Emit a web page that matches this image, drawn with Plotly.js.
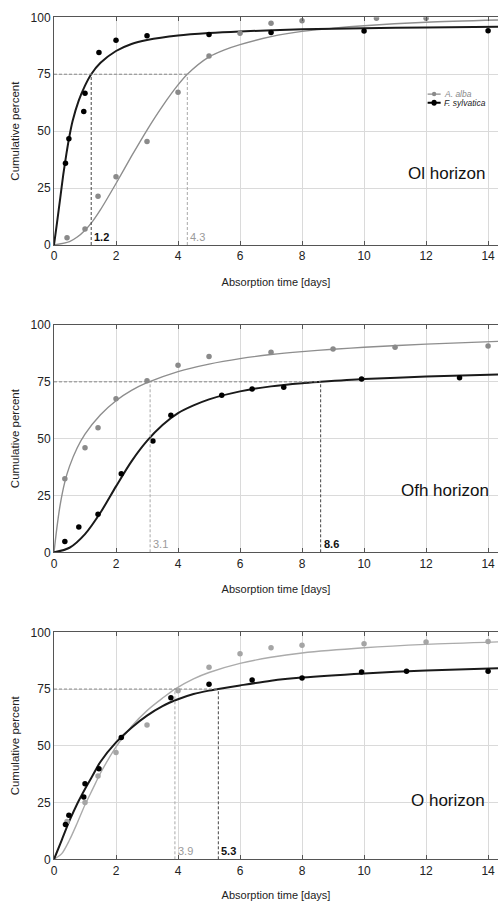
<!DOCTYPE html>
<html>
<head>
<meta charset="utf-8">
<script src="https://cdn.plot.ly/plotly-3.0.1.min.js"></script>
<style>html,body{margin:0;padding:0;background:#fff;}#chart{width:498px;height:901px;}</style>
</head>
<body>
<div id="chart"></div>
<script>
// ---------- DATA ----------
var panelNames = ["Ol horizon", "Ofh horizon", "O horizon"];
var speciesNames = ["A. alba", "F. sylvatica"];

// Ol horizon
var olAlbaX = [0.42, 1.0, 1.42, 2.0, 3.0, 4.0, 5.0, 6.0, 7.0, 8.0, 10.4, 12.0];
var olAlbaY = [3.2, 7.0, 21.4, 30.0, 45.4, 67.1, 83.0, 93.0, 97.4, 98.5, 99.6, 99.6];
var olFagX = [0.37, 0.48, 0.96, 1.0, 1.45, 2.0, 3.0, 5.0, 7.0, 10.0, 14.0];
var olFagY = [35.9, 46.7, 58.6, 66.6, 84.5, 89.9, 91.9, 92.5, 93.3, 94.0, 94.1];
var olAlbaFitX = [0, 0.5, 0.75, 1.0, 1.25, 1.5, 2.0, 2.5, 3.0, 3.5, 4.0, 4.3, 5.0, 5.5, 6.0, 7.0, 8.0, 9.0, 10.0, 12.0, 14.32];
var olAlbaFitY = [0, 1.5, 3.5, 6.5, 10.5, 15.5, 27.0, 39.0, 50.5, 61.0, 70.3, 75.0, 82.6, 85.7, 88.0, 91.5, 93.8, 95.2, 96.3, 97.8, 98.8];
var olFagFitX = [0, 0.1, 0.2, 0.3, 0.4, 0.5, 0.6, 0.8, 1.0, 1.2, 1.5, 2.0, 2.5, 3.0, 4.0, 5.0, 6.0, 8.0, 10.0, 12.0, 14.32];
var olFagFitY = [0, 10, 20.5, 31, 40, 48, 54.5, 63.5, 70, 75, 80, 85.2, 88.3, 90.0, 92.0, 93.1, 93.8, 94.7, 95.2, 95.5, 95.8];

// Ofh horizon
var ofhAlbaX = [0.35, 1.0, 1.42, 2.0, 3.0, 4.0, 5.0, 7.0, 9.0, 11.0, 14.0];
var ofhAlbaY = [32.4, 46.0, 54.8, 67.6, 75.5, 82.3, 86.1, 88.0, 89.4, 90.2, 90.8];
var ofhFagX = [0.35, 0.8, 1.42, 2.17, 3.19, 3.77, 5.41, 6.39, 7.41, 9.92, 13.08];
var ofhFagY = [4.7, 11.1, 16.7, 34.6, 49.0, 60.3, 69.1, 71.8, 72.6, 76.2, 76.8];
var ofhAlbaFitX = [0, 0.1, 0.2, 0.35, 0.5, 0.75, 1.0, 1.5, 2.0, 2.5, 3.0, 4.0, 5.0, 6.0, 7.0, 8.0, 9.0, 10.0, 12.0, 14.32];
var ofhAlbaFitY = [0, 11.5, 21, 31, 37.8, 46, 52, 60.5, 66.7, 71.2, 74.6, 79.5, 82.8, 85.2, 87.0, 88.3, 89.3, 90.2, 91.6, 92.8];
var ofhFagFitX = [0, 0.5, 1.0, 1.5, 2.0, 2.5, 3.0, 3.5, 4.0, 4.5, 5.0, 6.0, 7.0, 8.0, 8.6, 10.0, 12.0, 14.32];
var ofhFagFitY = [0, 2.0, 8.0, 17.5, 29.0, 40.0, 49.0, 56.0, 61.2, 64.6, 67.3, 70.8, 73.0, 74.4, 75.0, 76.2, 77.3, 78.2];

// O horizon
var oAlbaX = [0.42, 1.0, 1.42, 2.0, 3.0, 4.0, 5.0, 6.0, 7.0, 8.0, 10.0, 12.0, 14.0];
var oAlbaY = [16.6, 25.0, 36.7, 47.1, 59.2, 74.2, 84.6, 90.5, 93.2, 94.3, 95.0, 95.7, 95.9];
var oFagX = [0.37, 0.48, 0.96, 1.0, 1.45, 2.17, 3.77, 5.0, 6.39, 8.0, 9.92, 11.37, 14.0];
var oFagY = [15.3, 19.4, 27.5, 33.3, 39.9, 53.7, 71.2, 77.1, 79.0, 79.9, 82.5, 82.8, 82.8];
var oAlbaFitX = [0, 0.25, 0.5, 0.75, 1.0, 1.25, 1.5, 1.75, 2.0, 2.5, 3.0, 3.5, 3.9, 4.5, 5.0, 6.0, 7.0, 8.0, 10.0, 12.0, 14.32];
var oAlbaFitY = [0, 2.5, 8.5, 16, 24, 31, 38, 44, 49.5, 58.5, 65.5, 71, 75, 79.5, 82.3, 86.3, 89.0, 90.9, 93.2, 94.7, 95.8];
var oFagFitX = [0, 0.25, 0.5, 0.75, 1.0, 1.25, 1.5, 2.0, 2.5, 3.0, 3.5, 4.0, 4.5, 5.0, 5.3, 6.0, 7.0, 8.0, 10.0, 12.0, 14.32];
var oFagFitY = [0, 8.5, 17, 24.5, 31, 37, 43, 51.5, 58, 63.3, 67.5, 70.5, 72.8, 74.3, 75, 76.6, 78.7, 80.1, 81.9, 83.2, 84.2];

// Time to 75 % absorption [days]
var t75Alba = [4.3, 3.1, 3.9];
var t75Fag = [1.2, 8.6, 5.3];
var threshold = 75;

var xTicks = [0, 2, 4, 6, 8, 10, 12, 14];
var yTicks = [0, 25, 50, 75, 100];

// ---------- STYLE ----------
var FONT = "Liberation Sans, Arial, sans-serif";
var grayPt = ["#8a8a8a", "#8a8a8a", "#a5a5a5"];
var grayLn = ["#8e8e8e", "#8e8e8e", "#ababab"];
var blackPt = "#000000";
var blackLn = "#1a1a1a";

var panels = [
  {aX: olAlbaX, aY: olAlbaY, fX: olFagX, fY: olFagY, afX: olAlbaFitX, afY: olAlbaFitY, ffX: olFagFitX, ffY: olFagFitY},
  {aX: ofhAlbaX, aY: ofhAlbaY, fX: ofhFagX, fY: ofhFagY, afX: ofhAlbaFitX, afY: ofhAlbaFitY, ffX: ofhFagFitX, ffY: ofhFagFitY},
  {aX: oAlbaX, aY: oAlbaY, fX: oFagX, fY: oFagY, afX: oAlbaFitX, afY: oAlbaFitY, ffX: oFagFitX, ffY: oFagFitY}
];

var H = 901;
var plotPx = [[17.3, 245], [325, 552.3], [632.3, 859.3]];
var labelY = [31.6, 27.0, 26.1];
var labelX = [13.95, 14.09, 13.95];

var traces = [];
var shapes = [];
var annotations = [];
var layout = {
  width: 498, height: H,
  margin: {l: 54, r: 0, t: 0, b: 0},
  paper_bgcolor: "#ffffff", plot_bgcolor: "#ffffff",
  showlegend: false,
  font: {family: FONT, color: "#222", size: 12}
};

panels.forEach(function (p, i) {
  var sfx = i === 0 ? "" : String(i + 1);
  var xr = "x" + sfx, yr = "y" + sfx;
  // curves
  traces.push({x: p.afX, y: p.afY, xaxis: xr, yaxis: yr, type: "scatter", mode: "lines",
    line: {color: grayLn[i], width: 1.4, shape: "spline", smoothing: 0.8}, hoverinfo: "skip"});
  traces.push({x: p.ffX, y: p.ffY, xaxis: xr, yaxis: yr, type: "scatter", mode: "lines",
    line: {color: blackLn, width: 2, shape: "spline", smoothing: 0.8}, hoverinfo: "skip"});
  // points
  traces.push({x: p.aX, y: p.aY, xaxis: xr, yaxis: yr, type: "scatter", mode: "markers",
    name: speciesNames[0], marker: {color: grayPt[i], size: 5.5}});
  traces.push({x: p.fX, y: p.fY, xaxis: xr, yaxis: yr, type: "scatter", mode: "markers",
    name: speciesNames[1], marker: {color: blackPt, size: 5.5}});

  var top = 1 - plotPx[i][0] / H, bot = 1 - plotPx[i][1] / H;
  layout["xaxis" + sfx] = {
    domain: [0, 1], anchor: yr, range: [0, 14.32], tickvals: xTicks, ticktext: xTicks.map(String),
    showgrid: true, gridcolor: "#dadada", gridwidth: 1, zeroline: false,
    showline: true, linecolor: "#555", linewidth: 1, mirror: "ticks",
    ticks: "inside", ticklen: 4, tickcolor: "#555",
    tickfont: {family: FONT, size: 12, color: "#222"},
    title: {text: "Absorption time [days]", font: {family: FONT, size: 11, color: "#222"}, standoff: 15}
  };
  layout["yaxis" + sfx] = {
    domain: [bot, top], anchor: xr, range: [0, 100], tickvals: yTicks, ticktext: yTicks.map(String),
    showgrid: true, gridcolor: "#dadada", gridwidth: 1, zeroline: false,
    showline: true, linecolor: "#555", linewidth: 1, mirror: false, ticks: "",
    tickfont: {family: FONT, size: 12, color: "#222"},
    title: {text: "Cumulative percent", font: {family: FONT, size: 11.5, color: "#222"}, standoff: 8}
  };

  var ta = t75Alba[i], tf = t75Fag[i];
  var tmax = Math.max(ta, tf);
  // horizontal dashed line at 75 %
  shapes.push({type: "line", xref: xr, yref: yr, x0: 0, x1: tmax, y0: threshold, y1: threshold,
    line: {color: "#8a8a8a", width: 1, dash: "3px,2px"}});
  // vertical dashed lines
  shapes.push({type: "line", xref: xr, yref: yr, x0: ta, x1: ta, y0: 0, y1: threshold,
    line: {color: "#a8a8a8", width: 1, dash: "3px,2px"}});
  shapes.push({type: "line", xref: xr, yref: yr, x0: tf, x1: tf, y0: 0, y1: threshold,
    line: {color: "#444", width: 1, dash: "3px,2px"}});
  annotations.push({xref: xr, yref: yr, x: ta, y: 0, xanchor: "left", yanchor: "bottom", xshift: 1, yshift: 0,
    text: String(ta), showarrow: false, font: {family: FONT, size: 11, color: "#9a9a9a"}});
  annotations.push({xref: xr, yref: yr, x: tf, y: 0, xanchor: "left", yanchor: "bottom", xshift: 1, yshift: 0,
    text: "<b>" + String(tf) + "</b>", showarrow: false, font: {family: FONT, size: 11, color: "#111"}});
  // horizon label
  annotations.push({xref: xr, yref: yr, x: labelX[i], y: labelY[i], xanchor: "right", yanchor: "middle",
    text: panelNames[i], showarrow: false, font: {family: FONT, size: 17, color: "#111"}});
});

// manual legend in panel 1
var legRows = [{y: 66.3, c: "#8a8a8a", t: speciesNames[0], w: 1.2, r: 0.07, ry: 1.0},
               {y: 62.5, c: "#000", t: speciesNames[1], w: 2, r: 0.085, ry: 1.3}];
legRows.forEach(function (r) {
  shapes.push({type: "line", xref: "x", yref: "y", x0: 12.05, x1: 12.47, y0: r.y, y1: r.y,
    line: {color: r.c, width: r.w}});
  shapes.push({type: "circle", xref: "x", yref: "y", x0: 12.26 - r.r, x1: 12.26 + r.r, y0: r.y - r.ry, y1: r.y + r.ry,
    fillcolor: r.c, line: {color: r.c, width: 0}});
  annotations.push({xref: "x", yref: "y", x: 12.5, y: r.y, xanchor: "left", yanchor: "middle",
    text: "<i>" + r.t + "</i>", showarrow: false, font: {family: FONT, size: 8.5, color: r.c === "#000" ? "#222" : "#888"}});
});

layout.shapes = shapes;
layout.annotations = annotations;

Plotly.newPlot("chart", traces, layout, {staticPlot: true, displayModeBar: false});
</script>
</body>
</html>
